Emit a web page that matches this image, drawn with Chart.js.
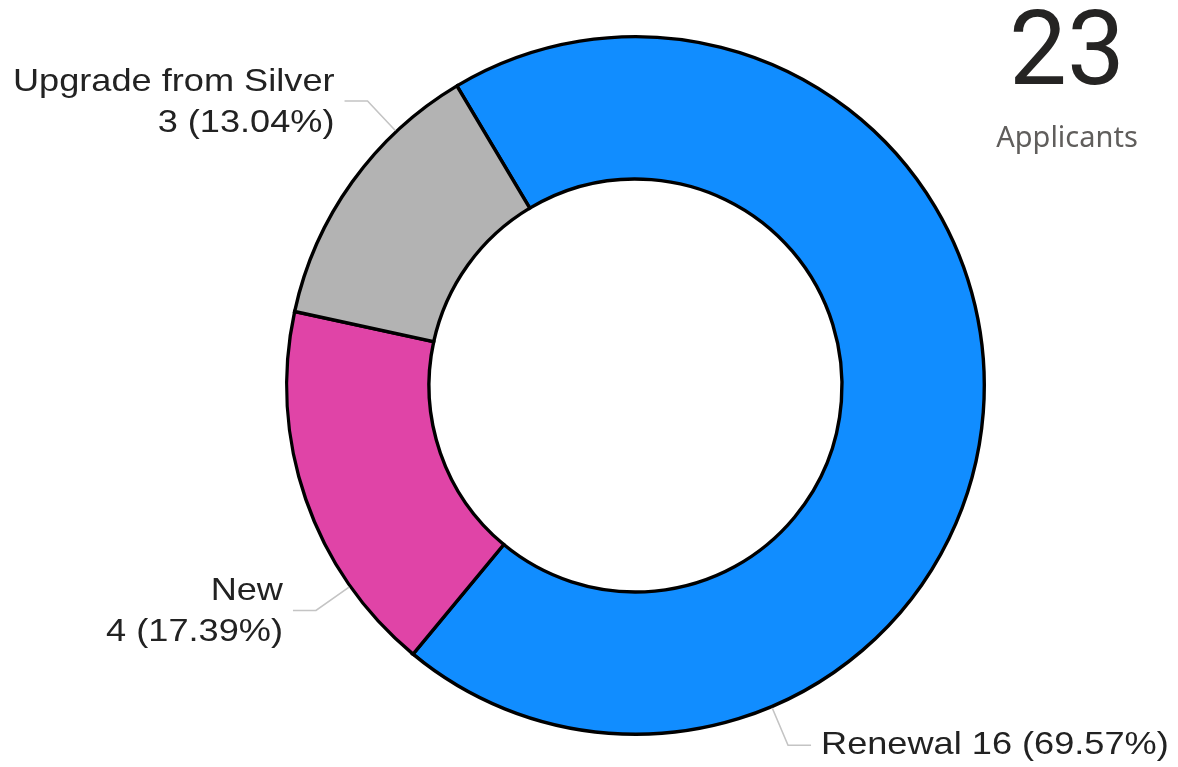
<!DOCTYPE html>
<html>
<head>
<meta charset="utf-8">
<script src="https://cdn.jsdelivr.net/npm/chart.js@4/dist/chart.umd.min.js"></script>
<style>
  html, body { margin: 0; padding: 0; background: #ffffff; }
  #wrap { position: relative; width: 1178px; height: 767px; }
  canvas { display: block; }
</style>
</head>
<body>
<div id="wrap"><canvas id="c" width="1178" height="767"></canvas></div>
<script>
// ---- data ----
const categories = ['Renewal', 'New', 'Upgrade from Silver'];
const applicants = [16, 4, 3];
const sliceColors = ['#118DFF', '#E044A7', '#B3B3B3'];
const cardLabel = 'Applicants';
// where on each slice's outer edge the leader line starts (fraction of the slice)
const leaderFractions = [0.75, 0.243, 0.734];

const total = applicants.reduce((a, b) => a + b, 0);

const labelPlugin = {
  id: 'outsideLabels',
  afterDraw(chart) {
    const ctx = chart.ctx;
    const meta = chart.getDatasetMeta(0);
    ctx.save();
    meta.data.forEach((arc, i) => {
      const p = arc.getProps(['x', 'y', 'startAngle', 'endAngle', 'outerRadius'], true);
      const a = p.startAngle + leaderFractions[i] * (p.endAngle - p.startAngle);
      const r0 = p.outerRadius + 1.5;
      const r1 = p.outerRadius + 42;
      const ax = p.x + r0 * Math.cos(a), ay = p.y + r0 * Math.sin(a);
      const ex = p.x + r1 * Math.cos(a), ey = p.y + r1 * Math.sin(a);
      const right = Math.cos(a) >= 0;
      const hx = ex + (right ? 23 : -23);
      ctx.strokeStyle = '#C4C4C4';
      ctx.lineWidth = 1.6;
      ctx.beginPath();
      ctx.moveTo(ax, ay);
      ctx.lineTo(ex, ey);
      ctx.lineTo(hx, ey);
      ctx.stroke();

      const pct = (applicants[i] / total * 100).toFixed(2) + '%';
      const valueText = applicants[i] + ' (' + pct + ')';
      const lines = right ? [categories[i] + ' ' + valueText] : [categories[i], valueText];
      const tx = hx + (right ? 10 : -10);
      ctx.fillStyle = '#222222';
      ctx.font = '32px "Liberation Sans", Arial, sans-serif';
      ctx.textAlign = right ? 'left' : 'right';
      ctx.textBaseline = 'alphabetic';
      const baselines = lines.length === 1 ? [ey + 9] : [ey - 10, ey + 31];
      lines.forEach((t, k) => {
        ctx.save();
        ctx.translate(tx, baselines[k]);
        ctx.scale(1.13, 1);
        ctx.fillText(t, 0, 0);
        ctx.restore();
      });
    });

    // card: total applicants
    ctx.textAlign = 'center';
    ctx.textBaseline = 'alphabetic';
    ctx.fillStyle = '#252423';
    ctx.font = '103px Roboto, "Noto Sans", sans-serif';
    ctx.fillText(String(total), 1067, 84);
    ctx.fillStyle = '#605E5C';
    ctx.font = '29px "Noto Sans", "Open Sans", sans-serif';
    ctx.fillText(cardLabel, 1067, 147);
    ctx.restore();
  }
};

new Chart(document.getElementById('c'), {
  type: 'doughnut',
  data: {
    labels: categories,
    datasets: [{
      data: applicants,
      backgroundColor: sliceColors,
      borderColor: '#000000',
      borderWidth: 3.4,
      hoverBorderWidth: 3.4,
      borderAlign: 'center',
      borderJoinStyle: 'miter',
      hoverOffset: 0
    }]
  },
  options: {
    responsive: false,
    animation: false,
    events: [],
    rotation: -30.8,
    cutout: '59.2%',
    layout: { padding: { top: 35, bottom: 31, left: 285, right: 192 } },
    plugins: {
      legend: { display: false },
      tooltip: { enabled: false }
    }
  },
  plugins: [labelPlugin]
});
</script>
</body>
</html>
